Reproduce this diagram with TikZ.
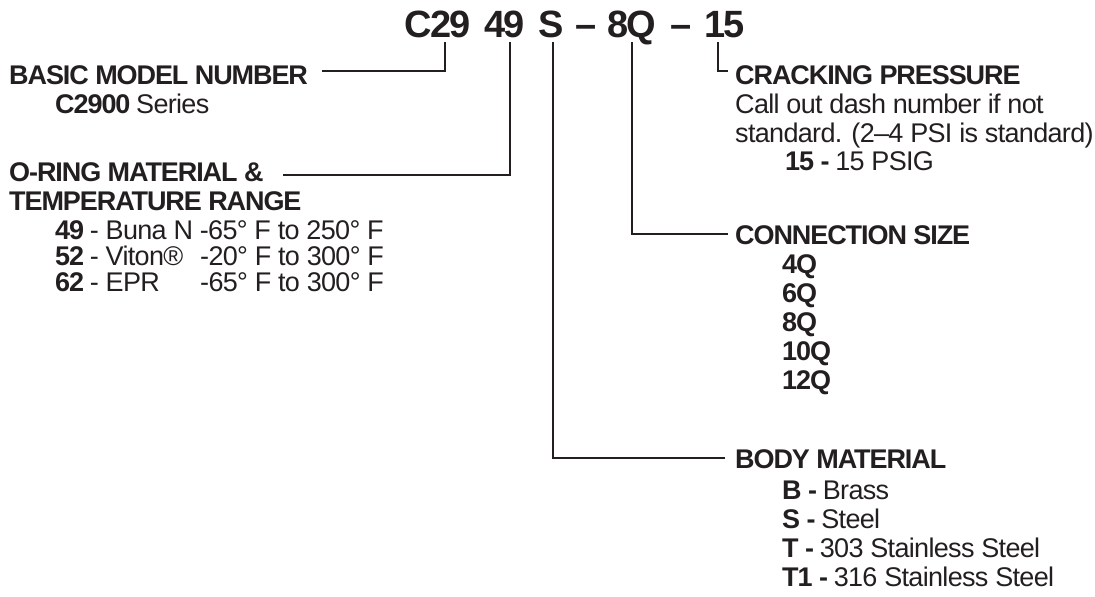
\documentclass[tikz,border=0pt]{standalone}
\usepackage{fontspec}
\setmainfont{Liberation Sans}[LetterSpace=-2.5,BoldFeatures={LetterSpace=-4}]
\definecolor{ink}{HTML}{231F20}
\begin{document}
\begin{tikzpicture}[x=1pt,y=-1pt,
  txt/.style={anchor=base west, inner sep=0pt, font=\fontsize{27}{31}\selectfont, text=ink},
  hd/.style={txt, font=\fontsize{27}{31}\selectfont\bfseries},
  ttl/.style={anchor=base west, inner sep=0pt, font=\fontsize{38}{44}\selectfont\bfseries, text=ink},
  lead/.style={draw=ink, line width=1.8pt}]
\useasboundingbox (0,0) rectangle (1095,597);
% title
\node[ttl] (t1) at (404,37) {C29};
\node[ttl] (t2) at (484,37) {49};
\node[ttl] (t3) at (538,37) {S};
\node[ttl] (t4) at (575,37) {–};
\node[ttl] (t5) at (607,37) {8Q};
\node[ttl] (t6) at (670,37) {–};
\node[ttl] (t7) at (704,37) {15};
% left
\node[hd] (basic) at (9,84) {BASIC MODEL NUMBER};
\node[txt] (basic1) at (55,113) {\textbf{C2900} Series};
\node[hd] (oring) at (9,181) {O-RING MATERIAL \&};
\node[hd] (oring2) at (9,210) {TEMPERATURE RANGE};
\node[txt] (o1) at (55,239) {\textbf{49} - Buna N -65° F to 250° F};
\node[txt] (o2) at (55,265) {\makebox[145pt][l]{\textbf{52} - Viton®}-20° F to 300° F};
\node[txt] (o3) at (55,291) {\makebox[145pt][l]{\textbf{62} - EPR}-65° F to 300° F};
% right top
\node[hd] (crack) at (735,84) {CRACKING PRESSURE};
\node[txt] (c1) at (735,113) {Call out dash number if not};
\node[txt] (c2) at (735,142) {standard. (2–4 PSI is standard)};
\node[txt] (c3) at (785,170) {\textbf{15 -} 15 PSIG};
% connection size
\node[hd] (conn) at (735,244) {CONNECTION SIZE};
\node[hd] (q1) at (782,273) {4Q};
\node[hd] (q2) at (782,302) {6Q};
\node[hd] (q3) at (782,331) {8Q};
\node[hd] (q4) at (782,360) {10Q};
\node[hd] (q5) at (782,389) {12Q};
% body material
\node[hd] (body) at (735,468) {BODY MATERIAL};
\node[txt] (b1) at (782,499) {\textbf{B -} Brass};
\node[txt] (b2) at (782,528) {\textbf{S -} Steel};
\node[txt] (b3) at (782,557) {\textbf{T -} 303 Stainless Steel};
\node[txt] (b4) at (782,586) {\textbf{T1 -} 316 Stainless Steel};
% leader coordinates
\coordinate (k1) at (445,42);
\coordinate (k2) at (510,42);
\coordinate (k3) at (553,42);
\coordinate (k4) at (632,42);
\coordinate (k5) at (718,42);
\coordinate (e1) at (322,71);
\coordinate (e2) at (283,175);
\coordinate (e3) at (725,458);
\coordinate (e4) at (728,234);
\coordinate (e5) at (728,71);
\draw[lead] (k1) |- (e1);
\draw[lead] (k2) |- (e2);
\draw[lead] (k3) |- (e3);
\draw[lead] (k4) |- (e4);
\draw[lead] (k5) |- (e5);
\end{tikzpicture}
\end{document}
